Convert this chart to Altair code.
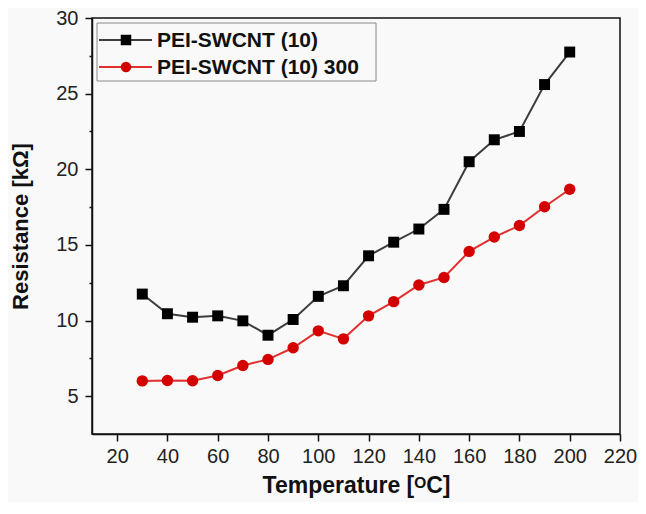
import altair as alt
import pandas as pd

temps = [30, 40, 50, 60, 70, 80, 90, 100, 110, 120, 130, 140, 150, 160, 170, 180, 190, 200]
res_a = [11.75, 10.45, 10.22, 10.31, 9.98, 9.03, 10.07, 11.6, 12.3, 14.28, 15.18, 16.05, 17.35, 20.5, 21.95, 22.5, 25.6, 27.75]
res_b = [6.01, 6.04, 6.02, 6.37, 7.03, 7.43, 8.2, 9.32, 8.79, 10.31, 11.25, 12.35, 12.85, 14.57, 15.52, 16.28, 17.52, 18.68]
series = ["PEI-SWCNT (10)", "PEI-SWCNT (10) 300"]
x_ticks = [20, 40, 60, 80, 100, 120, 140, 160, 180, 200, 220]
y_ticks = [5, 7.5, 10, 12.5, 15, 17.5, 20, 22.5, 25, 27.5, 30]

FONT = "Liberation Sans"
da = pd.DataFrame({"T": temps, "R": res_a})
db = pd.DataFrame({"T": temps, "R": res_b})

xs = alt.Scale(domain=[10, 220], nice=False, zero=False)
ys = alt.Scale(domain=[2.5, 30], nice=False, zero=False)

xaxis = alt.Axis(values=x_ticks, title="Temperature [ᴼC]", grid=False, tickSize=7,
                 labelFlush=False, labelOverlap=False, labelBound=False,
                 labelFontSize=20, labelFont=FONT, labelColor="#222", labelPadding=5,
                 titleFontSize=23, titleFont=FONT, titleFontWeight="bold", titleColor="#111",
                 titlePadding=8, domainColor="#111", domainWidth=1.5, tickColor="#111", tickWidth=1.5)
yaxis = alt.Axis(values=y_ticks, title="Resistance [kΩ]", grid=False,
                 tickSize={"condition": {"test": "datum.value % 5 !== 0", "value": 3}, "value": 7},
                 labelExpr="datum.value % 5 === 0 ? datum.label : ''",
                 labelFlush=False, labelOverlap=False,
                 labelFontSize=20, labelFont=FONT, labelColor="#222", labelPadding=7,
                 titleFontSize=22, titleFont=FONT, titleFontWeight="bold", titleColor="#111",
                 titlePadding=23, domainColor="#111", domainWidth=1.5, tickColor="#111", tickWidth=1.5)

line_a = alt.Chart(da).mark_line(color="#3c3c3c", strokeWidth=2).encode(
    x=alt.X("T:Q", scale=xs, axis=xaxis), y=alt.Y("R:Q", scale=ys, axis=yaxis))
pts_a = alt.Chart(da).mark_point(shape="square", filled=True, color="#000", size=120, opacity=1).encode(
    x=alt.X("T:Q", scale=xs), y=alt.Y("R:Q", scale=ys))
line_b = alt.Chart(db).mark_line(color="#e0302f", strokeWidth=2).encode(
    x=alt.X("T:Q", scale=xs), y=alt.Y("R:Q", scale=ys))
pts_b = alt.Chart(db).mark_point(shape="circle", filled=True, color="#d40000", size=130, opacity=1).encode(
    x=alt.X("T:Q", scale=xs), y=alt.Y("R:Q", scale=ys))

# legend
leg_df = pd.DataFrame({"a": [0]})
box = alt.Chart(leg_df).mark_rect(fill="none", stroke="#888", strokeWidth=1).encode(
    x=alt.value(5), x2=alt.value(284), y=alt.value(5), y2=alt.value(63))
legend_layers = [box]
rows = [(22, "#3c3c3c", "#000", "square"), (49, "#e0302f", "#d40000", "circle")]
for (yy, lc, mc, shp), name in zip(rows, series):
    legend_layers.append(alt.Chart(leg_df).mark_rule(color=lc, strokeWidth=2).encode(
        x=alt.value(7), x2=alt.value(60), y=alt.value(yy)))
    legend_layers.append(alt.Chart(leg_df).mark_point(shape=shp, filled=True, color=mc, size=110, opacity=1).encode(
        x=alt.value(34), y=alt.value(yy)))
    legend_layers.append(alt.Chart(leg_df).mark_text(text=name, align="left", baseline="middle",
        font=FONT, fontSize=21, fontWeight="bold", color="#111").encode(
        x=alt.value(65), y=alt.value(yy + 1)))

chart = alt.layer(line_a, line_b, pts_a, pts_b, *legend_layers).properties(
    width=528, height=416, background="#f9f9f9",
    padding={"left": 84, "top": 10, "right": 18, "bottom": 68},
    autosize=alt.AutoSizeParams(type="none"),
).configure_view(stroke="#111", strokeWidth=1.5)

chart.save("out.html", embed_options={"renderer": "svg", "actions": False})
